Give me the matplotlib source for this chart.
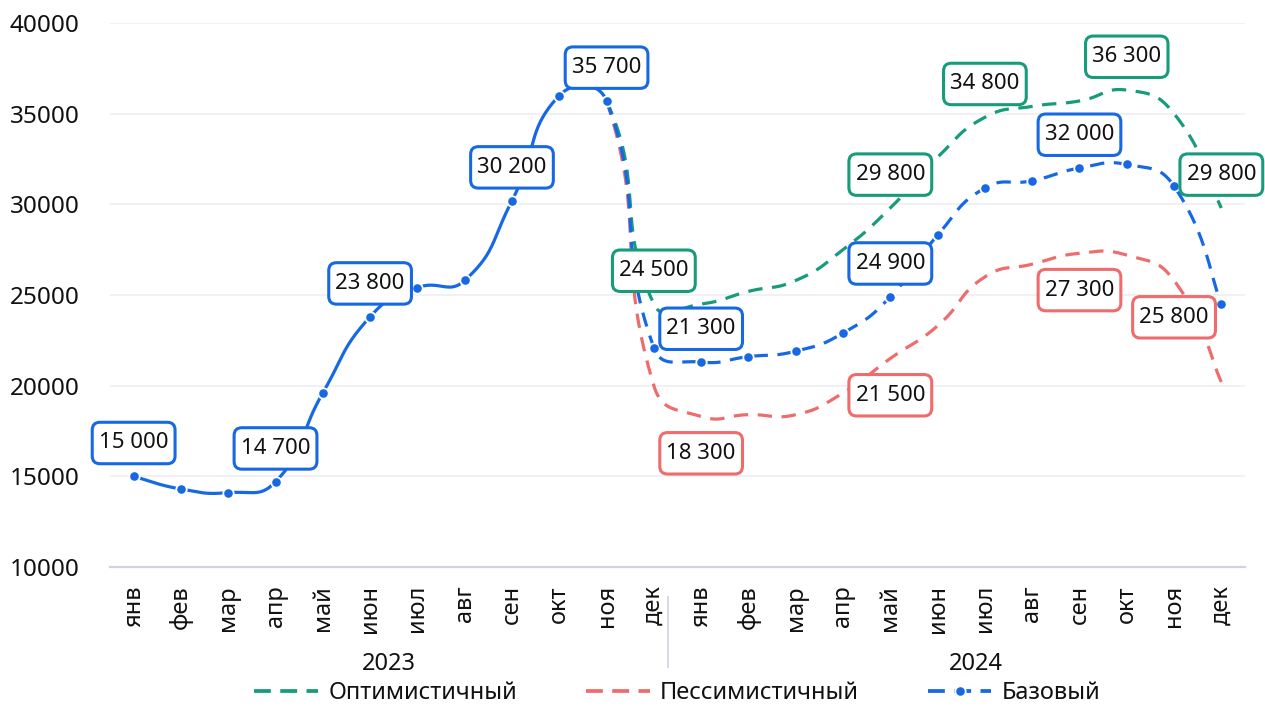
import numpy as np
import matplotlib
matplotlib.use("Agg")
import matplotlib.pyplot as plt
from matplotlib.lines import Line2D
from matplotlib.patches import BoxStyle
from matplotlib.transforms import blended_transform_factory

# ---------------- data ----------------
months = ['янв', 'фев', 'мар', 'апр', 'май', 'июн', 'июл', 'авг', 'сен', 'окт', 'ноя', 'дек']
years = ['2023', '2024']

# actual values янв 2023 – ноя 2023
actual_2023 = [15000, 14300, 14100, 14700, 19600, 23800, 25400, 25800, 30200, 36000, 35700]
# scenario values дек 2023 – дек 2024
base_fc = [22100, 21300, 21600, 21900, 22900, 24900, 28300, 30900, 31300, 32000, 32200, 31000, 24500]
optimistic_fc = [24500, 24500, 25200, 25800, 27500, 29800, 32600, 34800, 35400, 35700, 36300, 35000, 29800]
pessimistic_fc = [20000, 18300, 18400, 18400, 19600, 21500, 23300, 26000, 26700, 27300, 27200, 25800, 20200]

series_names = ['Оптимистичный', 'Пессимистичный', 'Базовый']

base_label_idx = [0, 3, 5, 8, 10, 12, 16, 20]
optimistic_label_idx = [11, 16, 18, 21, 23]
pessimistic_label_idx = [12, 16, 20, 22]

# ---------------- style ----------------
C_BLUE = '#1668E3'
C_GREEN = '#169B7B'
C_RED = '#EE6C6C'
GRID = '#EEEEF4'
AXIS = '#D2D2E2'
TXT = '#111111'

plt.rcParams['font.family'] = ['Noto Sans', 'DejaVu Sans']

fig = plt.figure(figsize=(12.65, 7.08), dpi=100)
ax = fig.add_axes([110 / 1265, 1 - 567 / 708, (1245 - 110) / 1265, (567 - 23) / 708])
ax.set_xlim(-0.5, 23.5)
ax.set_ylim(10000, 40000)
ax.set_yticks(np.arange(10000, 40001, 5000))
ax.set_yticklabels([str(v) for v in range(10000, 40001, 5000)])
ax.set_xticks(range(24))
ax.set_xticklabels(months * 2, rotation=90)
ax.tick_params(axis='y', length=0, pad=22, labelsize=17.5, labelcolor=TXT)
ax.tick_params(axis='x', length=0, pad=13, labelsize=17, labelcolor=TXT)
for s in ['left', 'right', 'top']:
    ax.spines[s].set_visible(False)
ax.spines['bottom'].set_color(AXIS)
ax.spines['bottom'].set_linewidth(1.6)
ax.grid(axis='y', color=GRID, lw=1.2)
ax.set_axisbelow(True)


def smooth(xs, ys, t=0.5, n=40):
    """Bezier smoothing computed in display space (Excel-like smoothed line)."""
    P = ax.transData.transform(np.column_stack([xs, ys]))
    N = len(P)
    d = np.linalg.norm(np.diff(P, axis=0), axis=1)
    pts = []
    for i in range(N - 1):
        p0, p3 = P[i], P[i + 1]
        if i > 0:
            c1 = p0 + (P[i + 1] - P[i - 1]) * t * d[i] / (d[i - 1] + d[i])
        else:
            c1 = p0 + (P[1] - P[0]) * t * 0.5
        if i + 2 < N:
            c2 = p3 - (P[i + 2] - P[i]) * t * d[i] / (d[i] + d[i + 1])
        else:
            c2 = p3 - (P[i + 1] - P[i]) * t * 0.5
        s = np.linspace(0, 1, n)[:, None]
        seg = ((1 - s) ** 3) * p0 + 3 * ((1 - s) ** 2) * s * c1 + 3 * (1 - s) * s ** 2 * c2 + s ** 3 * p3
        pts.append(seg if i == 0 else seg[1:])
    pts = np.vstack(pts)
    return ax.transData.inverted().transform(pts)


x_all = np.arange(24)
LW = 2.3
DASH = (4.5, 3)
n_act = len(actual_2023)

scen = [(optimistic_fc, C_GREEN, 2), (pessimistic_fc, C_RED, 3), (base_fc, C_BLUE, 4)]
curves = {}
for vals, col, z in scen:
    full = np.array(actual_2023 + vals, dtype=float)
    curve = smooth(x_all, full)
    curves[col] = (full, curve)
    mask = curve[:, 0] >= n_act - 1 - 1e-9
    ax.plot(curve[mask, 0], curve[mask, 1], color=col, lw=LW, dashes=DASH,
            solid_capstyle='butt', dash_capstyle='butt', zorder=z)

# solid actual part (blue)
full_b, curve_b = curves[C_BLUE]
mask = curve_b[:, 0] <= n_act - 1 + 1e-9
ax.plot(curve_b[mask, 0], curve_b[mask, 1], color=C_BLUE, lw=LW, zorder=5)
ax.plot(x_all, full_b, ls='none', marker='o', ms=7.5, mfc=C_BLUE, mec='white', mew=1.3, zorder=6)


class LabelBox(BoxStyle.Round):
    """Rounded box with separate horizontal and vertical padding."""
    def __init__(self, hpad=0.3, vpad=0.46, rounding_size=0.35):
        super().__init__(pad=0.0, rounding_size=rounding_size)
        self.hpad = hpad
        self.vpad = vpad

    def __call__(self, x0, y0, width, height, mutation_size):
        hp = self.hpad * mutation_size
        vp = self.vpad * mutation_size
        return super().__call__(x0 - hp, y0 - vp, width + 2 * hp, height + 2 * vp, mutation_size)


def fmt(v):
    return f"{int(v):,}".replace(',', ' ')


def add_labels(full, idxs, col, dy):
    for i in idxs:
        ax.annotate(fmt(full[i]), xy=(i, full[i]), xytext=(0, dy), textcoords='offset points',
                    ha='center', va='center', fontsize=16, color=TXT, zorder=10,
                    annotation_clip=False,
                    bbox=dict(boxstyle=LabelBox(), fc='white', ec=col, lw=2.2))


add_labels(curves[C_BLUE][0], base_label_idx, C_BLUE, 24)
add_labels(curves[C_GREEN][0], optimistic_label_idx, C_GREEN, 24)
add_labels(curves[C_RED][0], pessimistic_label_idx, C_RED, -26.5)

# year level of the category axis
tr = blended_transform_factory(ax.transData, ax.transAxes)
ax.text(5.4, -0.178, years[0], transform=tr, ha='center', va='center', fontsize=17, color=TXT)
ax.text(17.8, -0.178, years[1], transform=tr, ha='center', va='center', fontsize=17, color=TXT)
ax.plot([11.3, 11.3], [-0.055, -0.184], transform=tr, color=AXIS, lw=1.2, clip_on=False)

# legend
handles = [
    Line2D([], [], color=C_GREEN, lw=LW + 0.4, dashes=(4.5, 2.5)),
    Line2D([], [], color=C_RED, lw=LW + 0.4, dashes=(4.5, 2.5)),
    Line2D([], [], color=C_BLUE, lw=LW + 0.4, dashes=(4.5, 2.5), marker='o', ms=7.5, mfc=C_BLUE,
           mec='white', mew=1.3),
]
ax.legend(handles, series_names, loc='center', bbox_to_anchor=(0.5, -0.232), ncol=3, frameon=False,
          fontsize=17, handlelength=2.7, handletextpad=0.45, columnspacing=2.9, numpoints=1,
          labelcolor=TXT)

fig.savefig('out.png', dpi=100)
